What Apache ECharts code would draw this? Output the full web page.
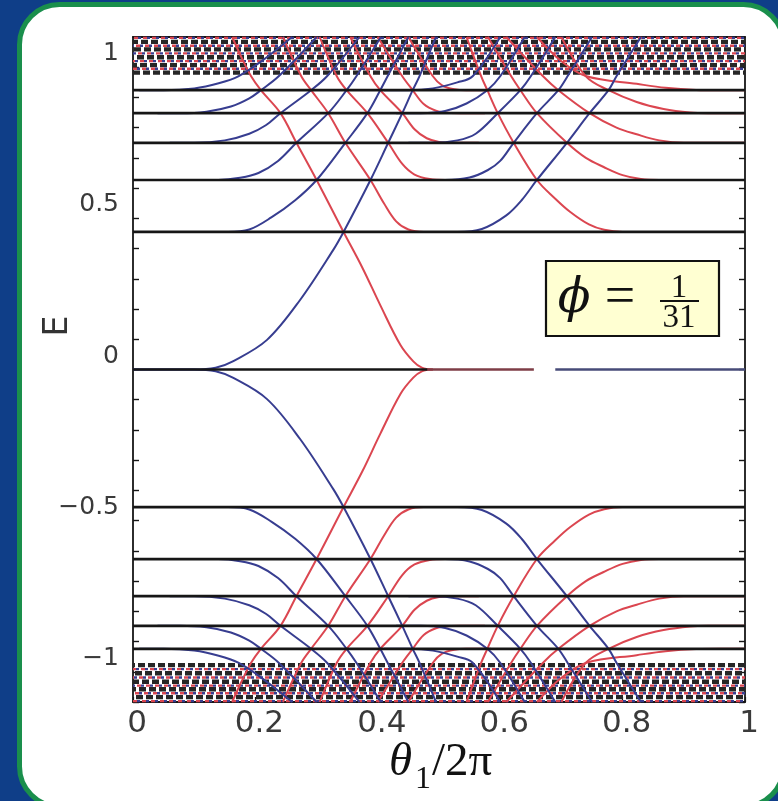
<!DOCTYPE html>
<html>
<head>
<meta charset="utf-8">
<script src="https://cdn.jsdelivr.net/npm/echarts@6/dist/echarts.min.js"></script>
<style>
  html, body { margin: 0; padding: 0; background: #0f3e88; }
  #chart { width: 778px; height: 801px; }
</style>
</head>
<body>
<div id="chart"></div>
<script>
// ---- tick labels ----
const xTickValues = [0, 0.2, 0.4, 0.6, 0.8, 1];
const yLabelValues = [-1, -0.5, 0, 0.5, 1];

// ---- Landau levels (bulk, drawn black) ----
const levelsUpper = [0.455, 0.627, 0.75, 0.848, 0.924];
const levelsLower = [-0.455, -0.627, -0.75, -0.848, -0.924];
const zeroLevel = [[0, 0], [0.481, 0]];

// ---- dense band rows near |E| = 1 ----
const bandBlackUpper = [0.982, 1.007, 1.033, 1.059, 1.084];
const bandColourUpper = [0.995, 1.02, 1.046, 1.071, 1.097];
const bandBlackLower = [-0.978, -1.005, -1.033, -1.058, -1.084];
const bandColourLower = [-0.991, -1.019, -1.046, -1.071, -1.097];

// ---- zero-energy edge segments ----
const zeroRed = [[0.481, 0], [0.655, 0]];
const zeroBlue = [[0.69, 0], [1, 0]];

// ---- left-edge states (blue), upper half ----
const blueA0U = [[0, 0], [0.1, 0], [0.135, 0.006], [0.164, 0.028], [0.219, 0.098], [0.273, 0.23], [0.327, 0.395], [0.344, 0.455], [0.388, 0.627], [0.417, 0.75], [0.44, 0.848], [0.457, 0.924], [0.468, 0.97], [0.495, 1.1]];
const blueA1U = [[0.11, 0.455], [0.155, 0.455], [0.19, 0.463], [0.226, 0.503], [0.265, 0.56], [0.3, 0.627], [0.347, 0.75], [0.383, 0.848], [0.404, 0.924], [0.416, 0.97], [0.45, 1.1]];
const blueA2U = [[0.1, 0.627], [0.139, 0.627], [0.175, 0.634], [0.205, 0.65], [0.237, 0.69], [0.267, 0.75], [0.319, 0.848], [0.349, 0.924], [0.365, 0.97], [0.405, 1.1]];
const blueA3U = [[0.06, 0.75], [0.1, 0.75], [0.15, 0.758], [0.19, 0.78], [0.217, 0.808], [0.241, 0.848], [0.291, 0.924], [0.317, 0.97], [0.37, 1.1]];
const blueA4U = [[0.04, 0.848], [0.077, 0.848], [0.12, 0.853], [0.16, 0.87], [0.19, 0.897], [0.209, 0.924], [0.238, 0.97], [0.3, 1.1]];
const blueA5U = [[0.01, 0.924], [0.05, 0.924], [0.1, 0.93], [0.14, 0.947], [0.172, 0.97], [0.21, 1.02], [0.26, 1.1]];
const blueB1U = [[0.49, 0.455], [0.53, 0.455], [0.57, 0.465], [0.61, 0.51], [0.635, 0.56], [0.66, 0.627], [0.709, 0.75], [0.746, 0.848], [0.777, 0.924], [0.79, 0.97], [0.83, 1.1]];
const blueB2U = [[0.47, 0.627], [0.51, 0.627], [0.55, 0.635], [0.58, 0.66], [0.6, 0.69], [0.622, 0.75], [0.66, 0.848], [0.695, 0.924], [0.71, 0.97], [0.75, 1.1]];
const blueB3U = [[0.45, 0.75], [0.49, 0.75], [0.53, 0.758], [0.56, 0.78], [0.596, 0.848], [0.633, 0.924], [0.65, 0.97], [0.69, 1.1]];
const blueB4U = [[0.43, 0.848], [0.47, 0.848], [0.51, 0.855], [0.545, 0.88], [0.579, 0.924], [0.6, 0.97], [0.64, 1.1]];
const blueB5U = [[0.41, 0.924], [0.45, 0.924], [0.49, 0.93], [0.53, 0.95], [0.555, 0.97], [0.6, 1.1]];

// ---- right-edge states (red), upper half ----
const redA0U = [[0.162, 1.1], [0.177, 1.034], [0.193, 0.97], [0.209, 0.924], [0.241, 0.848], [0.267, 0.75], [0.3, 0.627], [0.344, 0.455], [0.375, 0.336], [0.404, 0.213], [0.437, 0.081], [0.458, 0.027], [0.472, 0.006], [0.49, 0]];
const redA1U = [[0.245, 1.1], [0.275, 0.97], [0.291, 0.924], [0.319, 0.848], [0.347, 0.75], [0.388, 0.627], [0.41, 0.55], [0.43, 0.49], [0.45, 0.463], [0.475, 0.455], [0.52, 0.455]];
const redA2U = [[0.305, 1.1], [0.333, 0.97], [0.349, 0.924], [0.383, 0.848], [0.417, 0.75], [0.44, 0.68], [0.46, 0.645], [0.485, 0.63], [0.51, 0.627], [0.55, 0.627]];
const redA3U = [[0.355, 1.1], [0.388, 0.97], [0.404, 0.924], [0.44, 0.848], [0.46, 0.795], [0.48, 0.765], [0.5, 0.753], [0.525, 0.75], [0.565, 0.75]];
const redA4U = [[0.4, 1.1], [0.44, 0.97], [0.457, 0.924], [0.475, 0.878], [0.495, 0.856], [0.515, 0.849], [0.535, 0.848], [0.575, 0.848]];
const redA5U = [[0.45, 1.1], [0.49, 0.97], [0.505, 0.94], [0.525, 0.927], [0.545, 0.924], [0.585, 0.924]];
const redB1U = [[0.545, 1.1], [0.569, 0.97], [0.579, 0.924], [0.596, 0.848], [0.622, 0.75], [0.66, 0.627], [0.69, 0.565], [0.714, 0.522], [0.745, 0.48], [0.77, 0.462], [0.8, 0.455], [1, 0.455]];
const redB2U = [[0.58, 1.1], [0.618, 0.97], [0.633, 0.924], [0.66, 0.848], [0.709, 0.75], [0.74, 0.7], [0.769, 0.67], [0.8, 0.643], [0.83, 0.63], [0.86, 0.627], [1, 0.627]];
const redB3U = [[0.61, 1.1], [0.67, 0.97], [0.695, 0.924], [0.746, 0.848], [0.79, 0.8], [0.823, 0.778], [0.86, 0.758], [0.9, 0.75], [1, 0.75]];
const redB4U = [[0.7, 1.1], [0.74, 0.97], [0.777, 0.924], [0.823, 0.885], [0.867, 0.862], [0.91, 0.85], [0.94, 0.848], [1, 0.848]];
const redB5U = [[0.66, 1.1], [0.7, 1.02], [0.741, 0.97], [0.823, 0.945], [0.87, 0.932], [0.92, 0.925], [0.96, 0.924], [1, 0.924]];

// ---- left-edge states (blue), lower half ----
const blueA0L = [[0, 0], [0.1, 0], [0.135, -0.006], [0.164, -0.028], [0.219, -0.098], [0.273, -0.23], [0.327, -0.395], [0.344, -0.455], [0.388, -0.627], [0.417, -0.75], [0.44, -0.848], [0.457, -0.924], [0.468, -0.97], [0.495, -1.1]];
const blueA1L = [[0.11, -0.455], [0.155, -0.455], [0.19, -0.463], [0.226, -0.503], [0.265, -0.56], [0.3, -0.627], [0.347, -0.75], [0.383, -0.848], [0.404, -0.924], [0.416, -0.97], [0.45, -1.1]];
const blueA2L = [[0.1, -0.627], [0.139, -0.627], [0.175, -0.634], [0.205, -0.65], [0.237, -0.69], [0.267, -0.75], [0.319, -0.848], [0.349, -0.924], [0.365, -0.97], [0.405, -1.1]];
const blueA3L = [[0.06, -0.75], [0.1, -0.75], [0.15, -0.758], [0.19, -0.78], [0.217, -0.808], [0.241, -0.848], [0.291, -0.924], [0.317, -0.97], [0.37, -1.1]];
const blueA4L = [[0.04, -0.848], [0.077, -0.848], [0.12, -0.853], [0.16, -0.87], [0.19, -0.897], [0.209, -0.924], [0.238, -0.97], [0.3, -1.1]];
const blueA5L = [[0.01, -0.924], [0.05, -0.924], [0.1, -0.93], [0.14, -0.947], [0.172, -0.97], [0.21, -1.02], [0.26, -1.1]];
const blueB1L = [[0.49, -0.455], [0.53, -0.455], [0.57, -0.465], [0.61, -0.51], [0.635, -0.56], [0.66, -0.627], [0.709, -0.75], [0.746, -0.848], [0.777, -0.924], [0.79, -0.97], [0.83, -1.1]];
const blueB2L = [[0.47, -0.627], [0.51, -0.627], [0.55, -0.635], [0.58, -0.66], [0.6, -0.69], [0.622, -0.75], [0.66, -0.848], [0.695, -0.924], [0.71, -0.97], [0.75, -1.1]];
const blueB3L = [[0.45, -0.75], [0.49, -0.75], [0.53, -0.758], [0.56, -0.78], [0.596, -0.848], [0.633, -0.924], [0.65, -0.97], [0.69, -1.1]];
const blueB4L = [[0.43, -0.848], [0.47, -0.848], [0.51, -0.855], [0.545, -0.88], [0.579, -0.924], [0.6, -0.97], [0.64, -1.1]];
const blueB5L = [[0.41, -0.924], [0.45, -0.924], [0.49, -0.93], [0.53, -0.95], [0.555, -0.97], [0.6, -1.1]];

// ---- right-edge states (red), lower half ----
const redA0L = [[0.162, -1.1], [0.177, -1.034], [0.193, -0.97], [0.209, -0.924], [0.241, -0.848], [0.267, -0.75], [0.3, -0.627], [0.344, -0.455], [0.375, -0.336], [0.404, -0.213], [0.437, -0.081], [0.458, -0.027], [0.472, -0.006], [0.49, 0]];
const redA1L = [[0.245, -1.1], [0.275, -0.97], [0.291, -0.924], [0.319, -0.848], [0.347, -0.75], [0.388, -0.627], [0.41, -0.55], [0.43, -0.49], [0.45, -0.463], [0.475, -0.455], [0.52, -0.455]];
const redA2L = [[0.305, -1.1], [0.333, -0.97], [0.349, -0.924], [0.383, -0.848], [0.417, -0.75], [0.44, -0.68], [0.46, -0.645], [0.485, -0.63], [0.51, -0.627], [0.55, -0.627]];
const redA3L = [[0.355, -1.1], [0.388, -0.97], [0.404, -0.924], [0.44, -0.848], [0.46, -0.795], [0.48, -0.765], [0.5, -0.753], [0.525, -0.75], [0.565, -0.75]];
const redA4L = [[0.4, -1.1], [0.44, -0.97], [0.457, -0.924], [0.475, -0.878], [0.495, -0.856], [0.515, -0.849], [0.535, -0.848], [0.575, -0.848]];
const redA5L = [[0.45, -1.1], [0.49, -0.97], [0.505, -0.94], [0.525, -0.927], [0.545, -0.924], [0.585, -0.924]];
const redB1L = [[0.545, -1.1], [0.569, -0.97], [0.579, -0.924], [0.596, -0.848], [0.622, -0.75], [0.66, -0.627], [0.69, -0.565], [0.714, -0.522], [0.745, -0.48], [0.77, -0.462], [0.8, -0.455], [1, -0.455]];
const redB2L = [[0.58, -1.1], [0.618, -0.97], [0.633, -0.924], [0.66, -0.848], [0.709, -0.75], [0.74, -0.7], [0.769, -0.67], [0.8, -0.643], [0.83, -0.63], [0.86, -0.627], [1, -0.627]];
const redB3L = [[0.61, -1.1], [0.67, -0.97], [0.695, -0.924], [0.746, -0.848], [0.79, -0.8], [0.823, -0.778], [0.86, -0.758], [0.9, -0.75], [1, -0.75]];
const redB4L = [[0.7, -1.1], [0.74, -0.97], [0.777, -0.924], [0.823, -0.885], [0.867, -0.862], [0.91, -0.85], [0.94, -0.848], [1, -0.848]];
const redB5L = [[0.66, -1.1], [0.7, -1.02], [0.741, -0.97], [0.823, -0.945], [0.87, -0.932], [0.92, -0.925], [0.96, -0.924], [1, -0.924]];

const blueCurves = [blueA0U, blueA1U, blueA2U, blueA3U, blueA4U, blueA5U, blueB1U, blueB2U, blueB3U, blueB4U, blueB5U,
                    blueA0L, blueA1L, blueA2L, blueA3L, blueA4L, blueA5L, blueB1L, blueB2L, blueB3L, blueB4L, blueB5L];
const redCurves = [redA0U, redA1U, redA2U, redA3U, redA4U, redA5U, redB1U, redB2U, redB3U, redB4U, redB5U,
                   redA0L, redA1L, redA2L, redA3L, redA4L, redA5L, redB1L, redB2L, redB3L, redB4L, redB5L];

const RED = '#db4650';
const BLUE = '#373d90';
const BLACK = '#161616';

function curve(data, color, width, extra) {
  return Object.assign({
    type: 'line', data: data, showSymbol: false, silent: true, animation: false,
    smooth: 0.35, clip: true,
    lineStyle: { color: color, width: width }
  }, extra || {});
}
function row(E, color, width, dash, offset) {
  return curve([[0, E], [1, E]], color, width, {
    smooth: false,
    lineStyle: { color: color, width: width, type: dash, dashOffset: offset || 0 }
  });
}

const series = [];
// band texture: thick dashed black rows interleaved with thinner red/blue dashed rows
bandBlackUpper.concat(bandBlackLower).forEach((E, i) => series.push(row(E, '#262626', 4.4, [7, 3], i * 3)));
bandColourUpper.concat(bandColourLower).forEach((E, i) => {
  series.push(row(E, RED, 2.3, [4, 5], i * 2));
  series.push(row(E, BLUE, 2.3, [3, 6], i * 2 + 5));
});
// edge states
redCurves.forEach(d => series.push(curve(d, RED, 2)));
blueCurves.forEach(d => series.push(curve(d, BLUE, 2)));
series.push(curve(zeroRed, '#7e3d46', 2.6, { smooth: false }));
series.push(curve(zeroBlue, '#474b78', 2.6, { smooth: false }));
// bulk Landau levels on top
levelsUpper.concat(levelsLower).forEach(E => series.push(row(E, BLACK, 2.7, 'solid')));
series.push(curve(zeroLevel, BLACK, 2.5, { smooth: false }));

const chart = echarts.init(document.getElementById('chart'), null, { renderer: 'canvas' });

const labelFont = 'DejaVu Sans, Liberation Sans, sans-serif';
const serif = 'Liberation Serif, DejaVu Serif, serif';

chart.setOption({
  backgroundColor: '#0f3e88',
  animation: false,
  grid: { left: 133, right: 33, top: 37, bottom: 99, containLabel: false },
  xAxis: [{
    type: 'value', min: 0, max: 1, interval: 0.2, position: 'bottom',
    axisLine: { show: true, onZero: false, lineStyle: { color: BLACK, width: 1.8 } },
    axisTick: { show: true, inside: true, length: 5, lineStyle: { color: BLACK, width: 1.2 } },
    axisLabel: {
      fontFamily: labelFont, fontSize: 31, color: '#3a3a3a', margin: 6, padding: [0, 0, 0, 8],
      formatter: v => xTickValues.includes(Math.round(v * 10) / 10) ? String(Math.round(v * 10) / 10) : ''
    },
    splitLine: { show: false }
  }, {
    type: 'value', min: 0, max: 1, interval: 0.2, position: 'top',
    axisLine: { show: true, onZero: false, lineStyle: { color: BLACK, width: 1.8 } },
    axisTick: { show: false }, axisLabel: { show: false }, splitLine: { show: false }
  }],
  yAxis: [{
    type: 'value', min: -1.1, max: 1.1, interval: 0.1, position: 'left',
    axisLine: { show: true, onZero: false, lineStyle: { color: BLACK, width: 1.8 } },
    axisTick: { show: true, inside: true, length: 6, lineStyle: { color: BLACK, width: 1.4 } },
    axisLabel: {
      fontFamily: labelFont, fontSize: 25, color: '#3a3a3a', margin: 14,
      verticalAlign: 'bottom', padding: [0, 0, 1, 0],
      formatter: v => {
        const r = Math.round(v * 10) / 10;
        if (!yLabelValues.includes(r)) return '';
        return r < 0 ? '\u2212' + String(-r) : String(r);
      }
    },
    splitLine: { show: false }
  }, {
    type: 'value', min: -1.1, max: 1.1, interval: 0.1, position: 'right',
    axisLine: { show: true, onZero: false, lineStyle: { color: BLACK, width: 1.8 } },
    axisTick: { show: true, inside: true, length: 6, lineStyle: { color: BLACK, width: 1.4 } },
    axisLabel: { show: false }, splitLine: { show: false }
  }],
  graphic: [
    {
      type: 'rect', z: -10, silent: true,
      shape: { x: 19.5, y: 4.5, width: 764, height: 802, r: 40 },
      style: { fill: '#ffffff', stroke: '#1a8f4c', lineWidth: 5 }
    },
    {
      type: 'text', z: 10, silent: true, x: 58, y: 326, rotation: Math.PI / 2,
      style: { text: 'E', fontFamily: labelFont, fontSize: 33, fill: '#333', align: 'center', verticalAlign: 'middle' }
    },
    {
      type: 'text', z: 10, silent: true, x: 389, y: 763,
      style: { text: '\u03B8', fontFamily: serif, fontStyle: 'italic', fontSize: 47, fill: '#111', align: 'left', verticalAlign: 'middle' }
    },
    {
      type: 'text', z: 10, silent: true, x: 415, y: 780,
      style: { text: '1', fontFamily: serif, fontSize: 32, fill: '#111', align: 'left', verticalAlign: 'middle' }
    },
    {
      type: 'text', z: 10, silent: true, x: 432, y: 763,
      style: { text: '/2\u03C0', fontFamily: serif, fontSize: 47, fill: '#111', align: 'left', verticalAlign: 'middle' }
    },
    {
      type: 'group', z: 20, silent: true,
      children: [
        { type: 'rect', shape: { x: 546, y: 261, width: 173, height: 75 }, style: { fill: '#ffffd2', stroke: '#111', lineWidth: 2.2 } },
        { type: 'text', x: 574, y: 300, style: { text: '\u03D5', fontFamily: 'DejaVu Serif, serif', fontStyle: 'italic', fontSize: 48, fill: '#111', align: 'center', verticalAlign: 'middle' } },
        { type: 'text', x: 620, y: 299, style: { text: '=', fontFamily: serif, fontSize: 54, fill: '#111', align: 'center', verticalAlign: 'middle' } },
        { type: 'text', x: 679, y: 288, style: { text: '1', fontFamily: serif, fontSize: 33, fill: '#111', align: 'center', verticalAlign: 'middle' } },
        { type: 'line', shape: { x1: 660, y1: 301, x2: 699, y2: 301 }, style: { stroke: '#111', lineWidth: 1.8 } },
        { type: 'text', x: 679, y: 318, style: { text: '31', fontFamily: serif, fontSize: 33, fill: '#111', align: 'center', verticalAlign: 'middle' } }
      ]
    }
  ],
  series: series
});
</script>
</body>
</html>
